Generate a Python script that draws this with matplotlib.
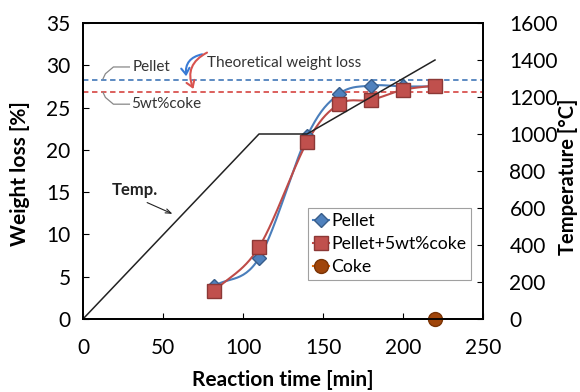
import numpy as np
import matplotlib
matplotlib.use('Agg')
import matplotlib.pyplot as plt
from matplotlib.patches import FancyArrowPatch

plt.rcParams['font.family'] = ['Lato', 'DejaVu Sans']

# data
time_pellet = [82, 110, 140, 160, 180, 200, 220]
wl_pellet = [3.9, 7.2, 21.6, 26.6, 27.6, 27.5, 27.5]
time_coke5 = [82, 110, 140, 160, 180, 200, 220]
wl_coke5 = [3.3, 8.5, 20.9, 25.4, 25.9, 27.1, 27.6]
time_coke = [220]
wl_coke = [0.0]
temp_time = [0, 110, 140, 220]
temp_val = [0, 1000, 1000, 1400]
theo_pellet = 28.3
theo_coke5 = 26.9


def smooth(x, y, n=30):
    # catmull-rom style curve like excel's smoothed line
    x = np.asarray(x, float)
    y = np.asarray(y, float)
    px = np.concatenate([[2 * x[0] - x[1]], x, [2 * x[-1] - x[-2]]])
    py = np.concatenate([[2 * y[0] - y[1]], y, [2 * y[-1] - y[-2]]])
    xs, ys = [], []
    t = np.linspace(0, 1, n)
    for i in range(1, len(px) - 2):
        for p, out in ((px, xs), (py, ys)):
            p0, p1, p2, p3 = p[i - 1], p[i], p[i + 1], p[i + 2]
            out.extend(0.5 * ((2 * p1) + (-p0 + p2) * t
                              + (2 * p0 - 5 * p1 + 4 * p2 - p3) * t ** 2
                              + (-p0 + 3 * p1 - 3 * p2 + p3) * t ** 3))
    return xs, ys


blue = '#4A7EBB'
red = '#BE4B48'

fig = plt.figure(figsize=(5.8, 3.92), dpi=100)
ax = fig.add_axes([83 / 580, 1 - 319 / 392, 400 / 580, 296 / 392])
ax2 = ax.twinx()

ax.axhline(theo_pellet, color='#4F81BD', ls=(0, (3, 2)), lw=1.3, zorder=1)
ax.axhline(theo_coke5, color='#D9534F', ls=(0, (3, 2)), lw=1.3, zorder=1)

ax2.plot(temp_time, temp_val, color='#222222', lw=1.1, zorder=2)

sx, sy = smooth(time_pellet, wl_pellet)
ax.plot(sx, sy, color=blue, lw=1.5, zorder=3)
sx, sy = smooth(time_coke5, wl_coke5)
ax.plot(sx, sy, color=red, lw=1.5, zorder=3)
ax.plot(time_pellet, wl_pellet, ls='none', marker='D', ms=7.5,
        mfc='#4F81BD', mec='#385D8A', zorder=4)
ax.plot(time_coke5, wl_coke5, ls='none', marker='s', ms=10.5,
        mfc='#C0504D', mec='#8C3836', zorder=5)
ax.plot(time_coke, wl_coke, ls='none', marker='o', ms=10,
        mfc='#A0450A', mec='#7A3406', zorder=6, clip_on=False)

# legend handles
h1, = ax.plot([], [], color=blue, marker='D', ms=7.5, mfc='#4F81BD', mec='#385D8A')
h2, = ax.plot([], [], color=red, marker='s', ms=10, mfc='#C0504D', mec='#8C3836')
h3, = ax.plot([], [], color='#E46C0A', marker='o', ms=10, mfc='#A0450A', mec='#7A3406')
leg = ax.legend([h1, h2, h3], ['Pellet', 'Pellet+5wt%coke', 'Coke'],
                loc='upper left', bbox_to_anchor=(0.5625, 0.375),
                fontsize=12.7, frameon=True, fancybox=False, handlelength=0.9,
                handletextpad=0.1, borderpad=0.3, labelspacing=0.38,
                borderaxespad=0)
leg.get_frame().set_edgecolor('#888888')
leg.get_frame().set_linewidth(0.8)
leg.set_zorder(10)

ax.set_xlim(0, 250)
ax.set_ylim(0, 35)
ax2.set_ylim(0, 1600)
ax.set_xticks(range(0, 251, 50))
ax.set_yticks(range(0, 36, 5))
ax2.set_yticks(range(0, 1601, 200))
for a in (ax, ax2):
    a.tick_params(direction='in', length=4, labelsize=15, pad=9)
    for s in a.spines.values():
        s.set_linewidth(1.3)
ax.tick_params(axis='x', pad=14)
ax2.tick_params(pad=19)

ax.set_xlabel('Reaction time [min]', fontsize=15, fontweight='bold', labelpad=8)
ax.set_ylabel('Weight loss [%]', fontsize=15, fontweight='bold', va='center')
ax.yaxis.set_label_coords(-0.1575, 0.49)
ax2.set_ylabel('Temperature [°C]', fontsize=14.5, fontweight='bold', va='center')
ax2.yaxis.set_label_coords(1.2125, 0.48)

# annotations
ax.text(31, 29.8, 'Pellet', fontsize=11, color='#333333', ha='left', va='center')
ax.text(30, 25.4, '5wt%coke', fontsize=11, color='#333333', ha='left', va='center')
ax.plot([29, 19, 14, 12.5], [29.8, 29.8, 29.0, 28.4], color='#888888', lw=0.9)
ax.plot([29, 19, 14, 12.5], [25.4, 25.4, 26.2, 26.8], color='#888888', lw=0.9)
ax.text(77.5, 30.3, 'Theoretical weight loss', fontsize=11, color='#333333',
        ha='left', va='center')
ax.add_patch(FancyArrowPatch((74.5, 31.3), (64.5, 28.7), connectionstyle='arc3,rad=0.45',
                             arrowstyle='->,head_length=4.5,head_width=3',
                             color='#3A7BD5', lw=1.5, shrinkA=0, shrinkB=0))
ax.add_patch(FancyArrowPatch((77.5, 31.5), (69, 27.2), connectionstyle='arc3,rad=0.45',
                             arrowstyle='->,head_length=4.5,head_width=3',
                             color='#D9534F', lw=1.5, shrinkA=0, shrinkB=0))
ax.text(18, 15.3, 'Temp.', fontsize=12, fontweight='bold', color='#222222',
        ha='left', va='center')
ax.annotate('', xy=(57.5, 12.3), xytext=(38.5, 13.9),
            arrowprops=dict(arrowstyle='->,head_length=0.4,head_width=0.15',
                            color='#222222', lw=0.8))

fig.savefig('out.png', dpi=100)
